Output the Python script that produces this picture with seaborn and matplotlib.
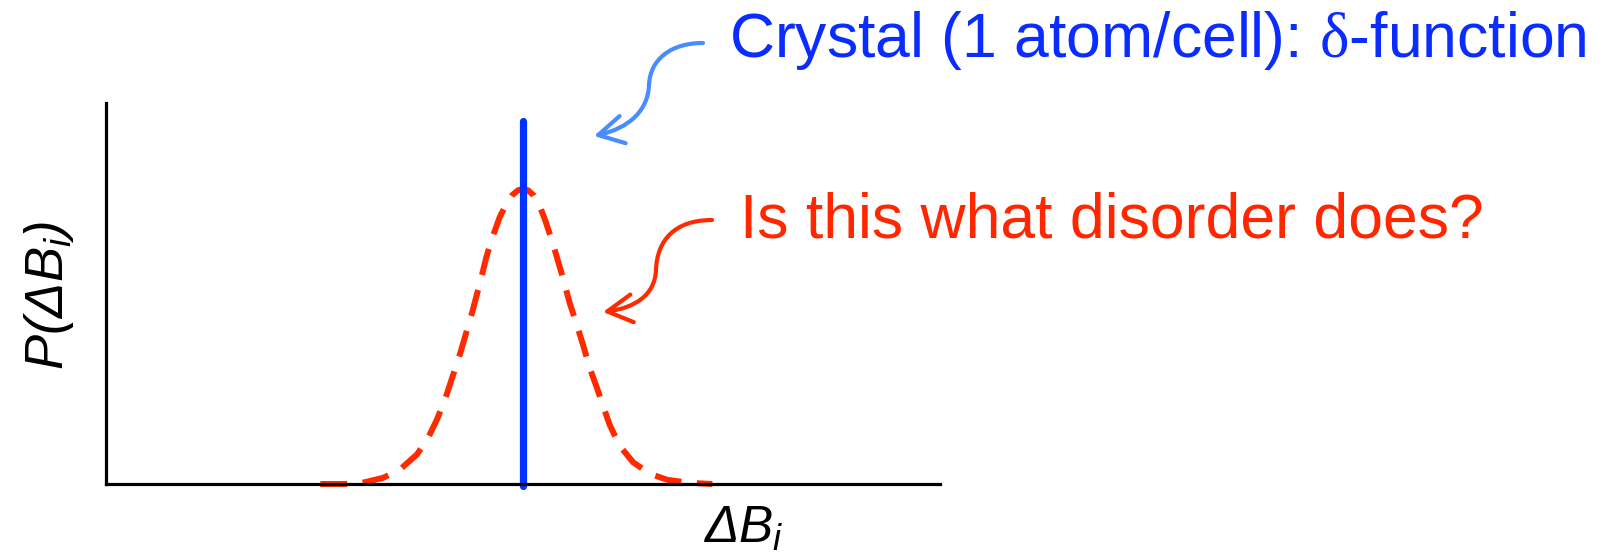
import matplotlib.pyplot as plt
import seaborn as sns
from matplotlib.path import Path
from matplotlib.patches import FancyArrowPatch

# dashed "disorder" curve (x in arbitrary units 0..10)
curve_x = [2.57, 2.85, 3.07, 3.32, 3.52, 3.73, 3.86, 3.97, 4.07, 4.16, 4.25, 4.31, 4.39, 4.45,
           4.51, 4.56, 4.63, 4.72, 4.80, 4.87, 4.94, 5.0, 5.06, 5.13, 5.20, 5.27, 5.36, 5.42,
           5.48, 5.56, 5.65, 5.72, 5.80, 5.89, 5.96, 6.04, 6.16, 6.32, 6.52, 6.73, 7.0, 7.27]
curve_y = [0.0, 0.0, 0.003, 0.016, 0.037, 0.078, 0.12, 0.17, 0.225, 0.285, 0.345, 0.39, 0.45, 0.50,
           0.55, 0.595, 0.645, 0.70, 0.735, 0.758, 0.771, 0.774, 0.771, 0.757, 0.73, 0.69, 0.63, 0.585,
           0.54, 0.475, 0.415, 0.365, 0.305, 0.25, 0.205, 0.155, 0.10, 0.057, 0.027, 0.011, 0.003, 0.0]

# crystal delta function
delta_x = [5.0, 5.0]
delta_y = [-0.005, 0.953]

blue_text = "Crystal (1 atom/cell): $\\mathsf{\\delta}$-function"
red_text = "Is this what disorder does?"
xlabel = "$\\mathit{\\Delta B_i}$"
ylabel = "$\\mathit{P(\\Delta B_i)}$"

sns.set_theme(style="white")
plt.rcParams['font.family'] = ['Liberation Sans', 'DejaVu Sans']
plt.rcParams['text.color'] = 'black'
plt.rcParams['mathtext.fontset'] = 'custom'
plt.rcParams['mathtext.rm'] = 'Liberation Sans:italic'
plt.rcParams['mathtext.it'] = 'Liberation Sans:italic'
plt.rcParams['mathtext.sf'] = 'Liberation Serif'

W, H = 1616, 560
fig = plt.figure(figsize=(W / 100, H / 100), dpi=100)
ax = fig.add_axes([106 / W, 76 / H, 834 / W, 381 / H])

sns.lineplot(x=curve_x, y=curve_y, color="#ff2a00", lw=4.3, linestyle=(0, (4.5, 2.6)),
             ax=ax, clip_on=False)
sns.lineplot(x=delta_x, y=delta_y, color="#0033ff", lw=5.2, estimator=None, sort=False,
             ax=ax, clip_on=False)

ax.set_xlim(0, 10)
ax.set_ylim(0, 1)
ax.set_xticks([])
ax.set_yticks([])
sns.despine(ax=ax)
for s in ("left", "bottom"):
    ax.spines[s].set_color("black")
    ax.spines[s].set_linewidth(2.3)
ax.set_xlabel("")
ax.set_ylabel("")

fig.text(703 / W, 1 - 543 / H, xlabel, fontsize=37, color="black", ha="left", va="baseline")
fig.text(49 / W, 1 - 295 / H, ylabel, fontsize=38, color="black", ha="center", va="center",
         rotation=90)

fig.text(729 / W, 1 - 57 / H, blue_text, fontsize=45, color="#0a2cff", va="baseline")
fig.text(740 / W, 1 - 237 / H, red_text, fontsize=45, color="#ff2600", va="baseline")


def curvy_arrow(pts, color):
    verts = [(x / W, 1 - y / H) for x, y in pts]
    codes = [Path.MOVETO] + [Path.CURVE4] * (len(verts) - 1)
    arr = FancyArrowPatch(path=Path(verts, codes), transform=fig.transFigure,
                          arrowstyle="->,head_length=0.9,head_width=0.5",
                          mutation_scale=20, color=color, lw=3)
    fig.patches.append(arr)


curvy_arrow([(703, 43), (670, 43), (650, 60), (649, 85),
             (648, 110), (630, 128), (594, 136)], "#4a8cff")
curvy_arrow([(712, 220), (675, 220), (657, 240), (656, 270),
             (655, 295), (635, 308), (603, 312)], "#ff2a00")

fig.savefig("out.png", dpi=100)
